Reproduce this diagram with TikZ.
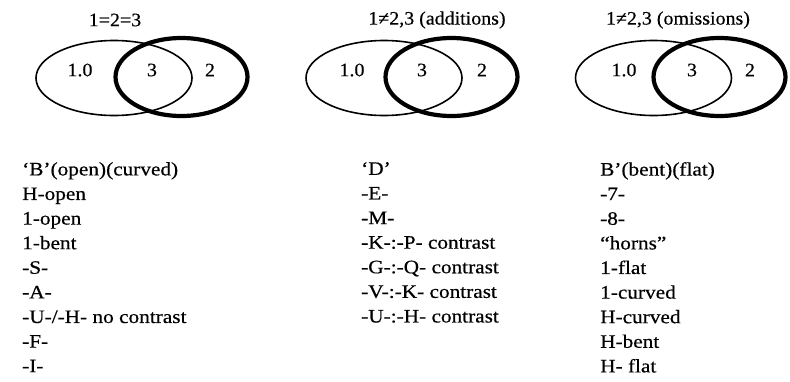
\documentclass[tikz,border=0pt]{standalone}
\usepackage{fontspec}
\setmainfont{Liberation Serif}
\newfontfamily\lblfont[FakeStretch=1.05,FakeBold=0.4]{Liberation Serif}
\newfontfamily\lstfont[FakeStretch=1.12,FakeBold=0.5]{Liberation Serif}
\usetikzlibrary{shapes.geometric}
\begin{document}
\begin{tikzpicture}[x=1pt,y=-1pt,
  thinell/.style={ellipse, draw, line width=1.6pt, inner sep=0pt, minimum width=156pt, minimum height=75pt},
  thickell/.style={ellipse, draw, line width=4.2pt, inner sep=0pt, minimum width=132pt, minimum height=78pt},
  lbl/.style={font=\lblfont\fontsize{19}{20}\selectfont, inner sep=0pt},
  ttl/.style={font=\lblfont\fontsize{19}{20}\selectfont, inner sep=0pt},
  lst/.style={font=\lstfont\fontsize{19}{24.6}\selectfont, anchor=north west, inner sep=0pt, align=left}]
\useasboundingbox (0,0) rectangle (790,381);
% diagram 1
\node[thinell] (a1) at (114,78) {};
\node[thickell] (b1) at (181.5,77) {};
\node[lbl] (a1l) at (80,70) {1.0};
\node[lbl] (c1l) at (152,70) {3};
\node[lbl] (b1l) at (210,70) {2};
\node[ttl] (t1) at (115,20) {1=2=3};
% diagram 2
\node[thinell] (a2) at (384,78) {};
\node[thickell] (b2) at (451.5,77) {};
\node[lbl] (a2l) at (352,70) {1.0};
\node[lbl] (c2l) at (422,70) {3};
\node[lbl] (b2l) at (482,70) {2};
\node[ttl] (t2) at (437,20) {1≠2,3 (additions)};
% diagram 3
\node[thinell] (a3) at (653.5,78) {};
\node[thickell] (b3) at (719.5,77) {};
\node[lbl] (a3l) at (624,70) {1.0};
\node[lbl] (c3l) at (692,70) {3};
\node[lbl] (b3l) at (750,70) {2};
\node[ttl] (t3) at (678,20) {1≠2,3 (omissions)};
% lists
\node[lst] (l1) at (22,162) {‘B’(open)(curved)\\H-open\\1-open\\1-bent\\-S-\\-A-\\-U-/-H- no contrast\\-F-\\-I-};
\node[lst] (l2) at (361,162) {‘D’\\-E-\\-M-\\-K-:-P- contrast\\-G-:-Q- contrast\\-V-:-K- contrast\\-U-:-H- contrast};
\node[lst] (l3) at (600,162) {B’(bent)(flat)\\-7-\\-8-\\“horns”\\1-flat\\1-curved\\H-curved\\H-bent\\H- flat};
\end{tikzpicture}
\end{document}
